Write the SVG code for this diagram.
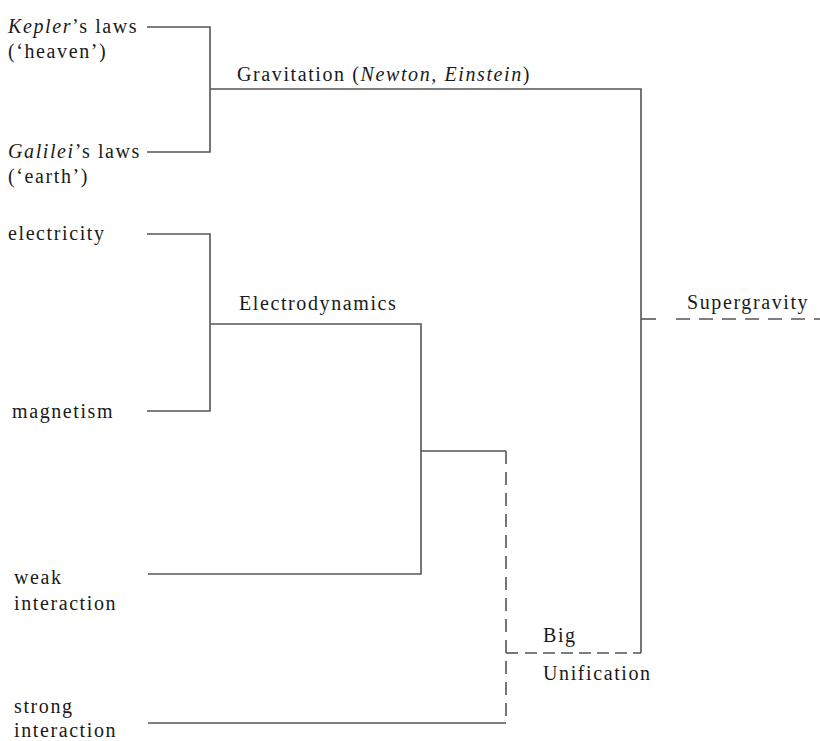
<svg xmlns="http://www.w3.org/2000/svg" width="820" height="741" viewBox="0 0 820 741" font-family="Liberation Serif, DejaVu Serif, serif">
<style>
text{font-size:20px;fill:#1a1a1a;letter-spacing:1.6px}
.i{font-style:italic}
.l{fill:none;stroke:#555;stroke-width:1.6}
.d{fill:none;stroke:#555;stroke-width:1.6;stroke-dasharray:13 8}
</style>
<rect width="820" height="741" fill="#fff"/>
<g id="kepler"><text x="8" y="33"><tspan class="i">Kepler</tspan>’s laws</text><text x="8" y="58">(‘heaven’)</text></g>
<g id="galilei"><text x="8" y="158"><tspan class="i">Galilei</tspan>’s laws</text><text x="8" y="183">(‘earth’)</text></g>
<g id="gravitation"><text x="237" y="81">Gravitation (<tspan class="i">Newton, Einstein</tspan>)</text></g>
<g id="electricity"><text x="8" y="240">electricity</text></g>
<g id="magnetism"><text x="12" y="418">magnetism</text></g>
<g id="electrodynamics"><text x="239" y="310">Electrodynamics</text></g>
<g id="weak"><text x="14" y="584">weak</text><text x="14" y="610">interaction</text></g>
<g id="strong"><text x="14" y="713">strong</text><text x="14" y="737">interaction</text></g>
<g id="supergravity"><text x="687" y="309">Supergravity</text></g>
<g id="bigunification"><text x="543" y="642">Big</text><text x="543" y="680">Unification</text></g>
<g id="connectors">
<path class="l" d="M147 27H210V152H147M210 89H641V653"/>
<path class="l" d="M147 234H210V411H147M210 324H421V574H148M421 451H506"/>
<path class="l" d="M148 723H506"/>
<path class="d" d="M506 451V723"/>
<path class="l" d="M641 319H656"/>
<path class="d" d="M676 319H820" style="stroke-dasharray:14 9"/>
<path class="l" d="M506 653H518"/>
<path class="d" d="M525 653H641" style="stroke-dasharray:12 6"/>
</g>
</svg>
